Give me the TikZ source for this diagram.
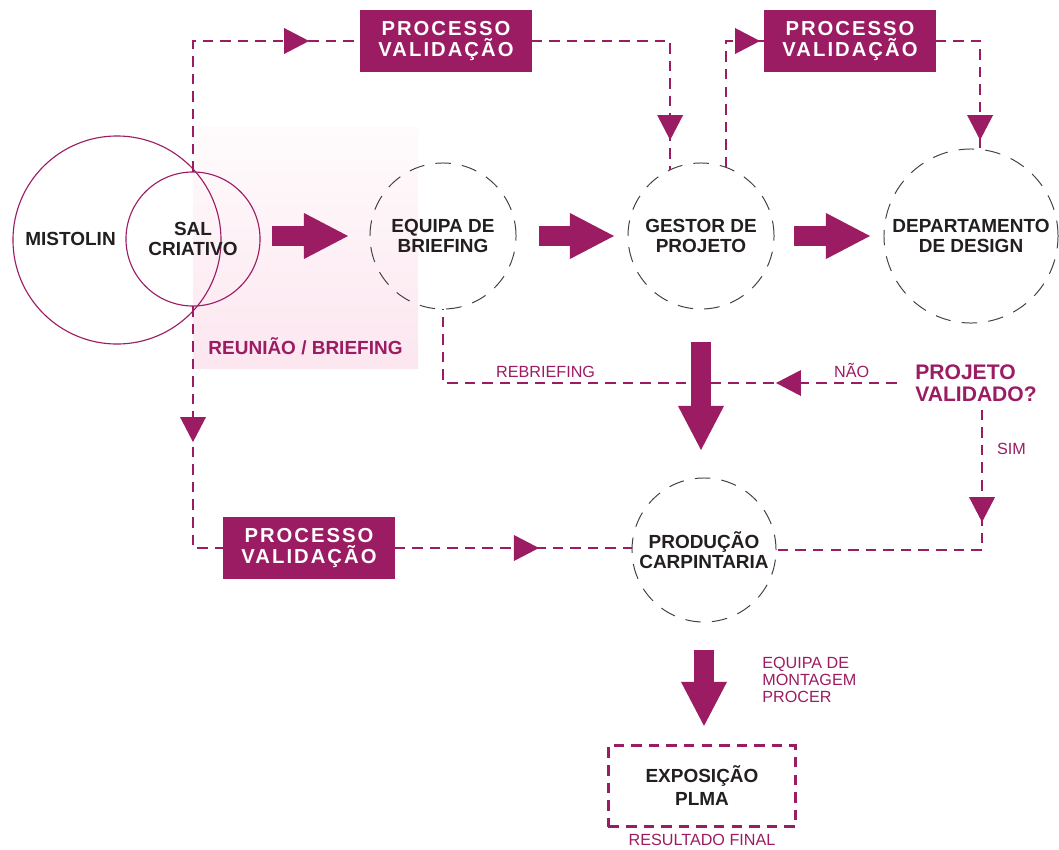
\documentclass[tikz,border=0pt]{standalone}
\usepackage{fontspec}
\setmainfont{Liberation Sans}
\usepackage{xcolor}
\usetikzlibrary{arrows.meta,decorations.markings,calc,positioning}
\definecolor{roxo}{HTML}{9B1C62}
\definecolor{rosa}{HTML}{FCE6EF}
\definecolor{tinta}{HTML}{231F20}
\newcommand{\titulo}{\fontsize{13.5}{14}\selectfont\bfseries}
\newcommand{\caixa}{\fontsize{14.4}{15}\selectfont\bfseries\addfontfeatures{LetterSpace=10}}
\newcommand{\decisao}{\fontsize{15}{15.6}\selectfont\bfseries}
\newcommand{\nota}{\fontsize{11.5}{12}\selectfont}
\tikzset{
  empresa/.style={circle,draw=roxo,line width=0.8pt,inner sep=0pt,outer sep=0pt,text=tinta,align=center,font=\titulo},
  etapa/.style={circle,draw=tinta!85,line width=0.7pt,dash pattern=on 11pt off 8pt,inner sep=0pt,outer sep=0pt,text=tinta,align=center,font=\titulo},
  validacao/.style={fill=roxo,text=white,minimum width=4.275cm,minimum height=1.55cm,inner sep=0pt,outer sep=0pt,align=center,font=\caixa},
  resultado/.style={draw=roxo,line width=1.5pt,dash pattern=on 7.5pt off 5pt,minimum width=4.675cm,minimum height=2.025cm,outer sep=0pt,text=tinta,align=center,font=\fontsize{13.5}{16.4}\selectfont\bfseries},
  fluxo/.style={draw=roxo,line width=1.5pt,dash pattern=on 7.5pt off 5pt},
  seta/.style={postaction={decorate},decoration={markings,mark=at position #1 with {\arrow{Triangle[length=0.625cm,width=0.65cm,line width=0pt]}}}},
  bloco/.style={draw=roxo,line width=0.5cm,-{Triangle[length=1.1cm,width=1.15cm,line width=0pt]}},
  rotulo/.style={text=roxo,font=\nota,inner sep=0pt}
}
\begin{document}
\begin{tikzpicture}[x=0.025cm,y=-0.025cm]
\useasboundingbox (0,0) rectangle (1059,849);
% faixa da reuniao
\node[top color=rosa!15,middle color=rosa!85,bottom color=rosa,minimum width=5.625cm,minimum height=6cm,inner sep=0pt] (reuniao) at (305.5,248) {};
\node[rotulo,font=\titulo,above=0.325cm of reuniao.south] (reuniaotxt) {REUNIÃO / BRIEFING};
% clientes
\node[empresa,minimum size=5.2cm] (mistolin) at (117,240) {};
\node[empresa,minimum size=3.35cm] (sal) at (193,239) {SAL\\CRIATIVO};
\node[text=tinta,font=\titulo,inner sep=0pt,left=0.25cm of sal.west] (mistolintxt) {MISTOLIN};
% etapas
\node[etapa,minimum size=3.65cm] (equipa) at (443,236) {EQUIPA DE\\BRIEFING};
\node[etapa,minimum size=3.65cm] (gestor) at (701,236) {GESTOR DE\\PROJETO};
\node[etapa,minimum size=4.35cm] (design) at (971,236) {DEPARTAMENTO\\DE DESIGN};
\node[etapa,minimum size=3.6cm] (producao) at (704,550) {PRODUÇÃO\\CARPINTARIA};
\node[resultado] (expo) at (702,786) {EXPOSIÇÃO\\PLMA};
\node[rotulo,below=0.175cm of expo] (final) {RESULTADO FINAL};
% validacoes
\node[validacao] (val1) at (446,41) {PROCESSO\\VALIDAÇÃO};
\node[validacao] (val2) at (850,41) {PROCESSO\\VALIDAÇÃO};
\node[validacao] (val3) at (309,548) {PROCESSO\\VALIDAÇÃO};
\node[rotulo,font=\decisao,align=left,anchor=west,inner xsep=0.45cm,inner ysep=0.2cm] (decisao) at (897,383) {PROJETO\\VALIDADO?};
\node[rotulo,align=left,anchor=west] (montagem) at (762,680) {EQUIPA DE\\MONTAGEM\\PROCER};
% ligacoes tracejadas
\draw[fluxo,seta=6.175cm] (sal.north) |- (val1.west);
\draw[fluxo,seta=5.94cm] (val1.east) -| (gestor.115);
\draw[fluxo,seta=4.01cm] (gestor.70) |- (val2.west);
\draw[fluxo,seta=3.59cm] (val2.east) -| (design.84);
\draw[fluxo,seta=3.4cm] (sal.south) |- (val3.west);
\draw[fluxo,seta=3.61cm] (val3.east) -- (producao.west |- val3.east);
\draw[fluxo,seta=3.025cm] (decisao.west) -| node[rotulo,above=3pt,pos=0.05] {NÃO} node[rotulo,above=3pt,pos=0.387] {REBRIEFING} (equipa.south);
\draw[fluxo,seta=2.81cm] ([xshift=0.15cm]decisao.south) |- node[rotulo,right=0.35cm,pos=0.14] {SIM} (producao.east);
% setas grandes
\draw[bloco,shorten <=0.3cm,shorten >=0.55cm] (sal.east |- equipa) -- (equipa.west);
\draw[bloco,shorten <=0.575cm,shorten >=0.35cm] (equipa) -- (gestor);
\draw[bloco,shorten <=0.5cm,shorten >=0.35cm] (gestor) -- (design);
\draw[bloco,shorten <=0.825cm,shorten >=0.7cm] (gestor.south) -- (gestor.south |- producao.north);
\draw[bloco,shorten <=0.7cm,shorten >=0.49cm] (producao.south) -- (producao.south |- expo.north);
\end{tikzpicture}
\end{document}
